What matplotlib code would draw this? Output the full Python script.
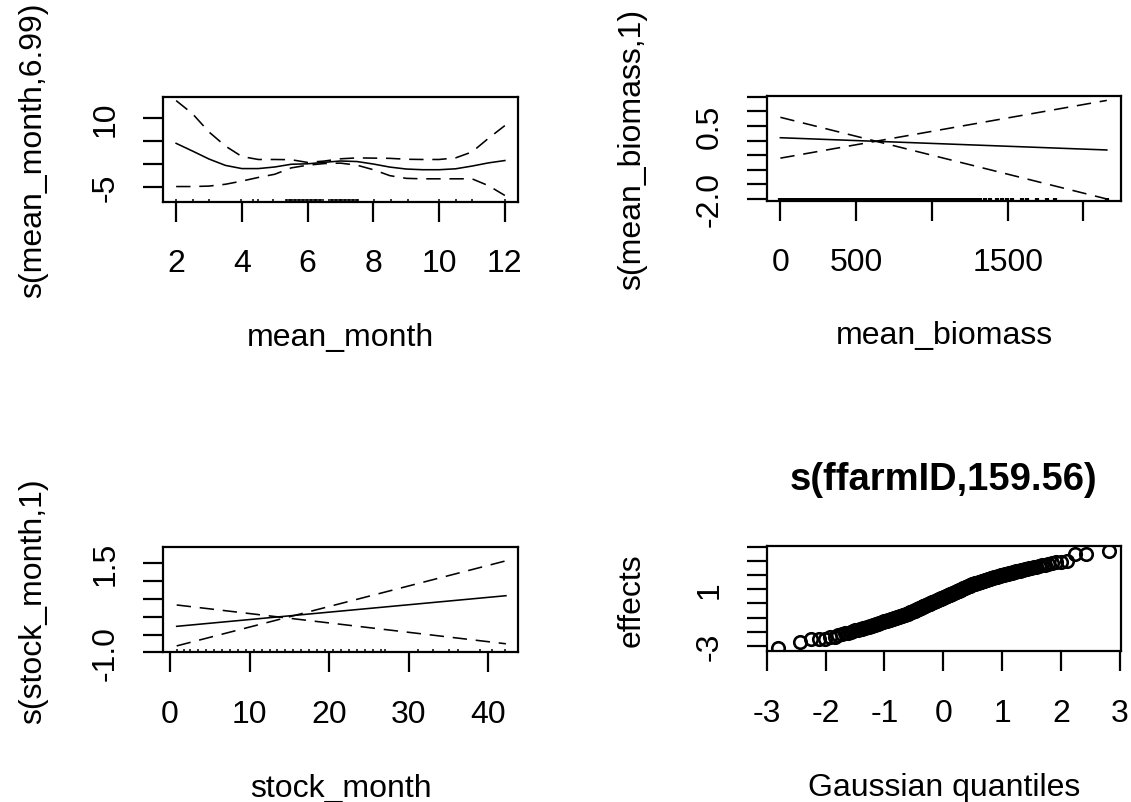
import matplotlib
matplotlib.use("Agg")
import matplotlib.pyplot as plt
from statistics import NormalDist

plt.rcParams['font.family'] = ['Liberation Sans', 'DejaVu Sans']

# s(mean_month) : fit and +-2se band
month_x = [2, 2.5, 3, 3.5, 4, 4.5, 5, 5.5, 6, 6.5, 7, 7.5, 8, 8.5, 9, 9.5, 10, 10.5, 11, 11.5, 12]
month_fit = [4.5, 2.8, 1.05, -0.35, -1.05, -1.05, -0.7, -0.1, 0.0, 0.32, 0.62, 0.5, -0.05, -0.72,
             -1.15, -1.3, -1.3, -1.1, -0.5, 0.2, 0.72]
month_up = [13.9, 11.0, 7.0, 3.9, 1.6, 0.95, 0.95, 0.9, 0.3, 0.6, 1.1, 1.3, 1.25, 1.2, 1.0, 0.95,
            0.95, 1.3, 2.6, 5.6, 8.4]
month_lo = [-5.0, -5.0, -4.9, -4.5, -3.8, -3.0, -2.3, -0.9, -0.3, 0.05, 0.15, -0.3, -1.3, -2.6,
            -3.2, -3.3, -3.3, -3.3, -3.3, -4.8, -6.96]
month_rug = [2.0, 2.5, 3.01, 3.98, 4.33, 4.48, 4.94,
             5.34, 5.38, 5.42, 5.46, 5.5, 5.54, 5.58, 5.62, 5.66, 5.7, 5.74, 5.78, 5.82, 5.86, 5.9,
             5.94, 5.98, 6.02, 6.06, 6.1, 6.14, 6.18, 6.22, 6.26, 6.3, 6.34, 6.38, 6.42, 6.46,
             6.66, 6.7, 6.74, 6.78, 6.82, 6.86, 6.9, 6.94, 6.98, 7.02, 7.06, 7.1, 7.14, 7.18, 7.22,
             7.26, 7.3, 7.34, 7.38, 7.42, 7.46, 7.5, 7.53,
             8.03, 8.53, 9.04, 10.0, 10.5, 11.0, 12.0]

# s(mean_biomass) : linear term
biomass_x = [0, 2154]
biomass_fit = [0.10, -0.32]
biomass_a = [0.80, -2.0]
biomass_b = [-0.60, 1.38]
biomass_rug = [0, 21, 38, 60, 79, 101, 118, 140, 161, 179, 200, 222, 239, 260, 281, 299, 320, 342,
               359, 380, 402, 419, 441, 460, 479, 500, 522, 540, 561, 579, 601, 620, 639, 660, 681,
               700, 719, 741, 760, 779, 800, 821, 840, 859, 880, 901, 919, 940, 962, 980, 999, 1020,
               1041, 1060, 1079, 1100, 1122, 1139, 1160, 1181, 1200, 1219, 1240, 1262, 1281, 1297,
               1318, 1351, 1384, 1428, 1461, 1494, 1527, 1593, 1626, 1692, 1758, 1813, 2154]

# s(stock_month) : linear term
stock_x = [0.84, 42.2]
stock_fit = [-0.27, 0.59]
stock_a = [0.33, -0.76]
stock_b = [-0.82, 1.57]
stock_rug = [0.84, 1.7, 2.5, 3.5, 4.5, 5.5, 6.5, 7.5, 8.5, 9.5, 10.5, 11.5, 12.5, 13.5, 14.5, 15.5,
             16.5, 17.5, 18.5, 19.5, 20.5, 21.5, 22.5, 23.5, 24.5, 25.5, 26.5, 27.0,
             31.2, 33.1, 35.0, 36.2, 38.9, 40.4, 42.1]

# random effect of ffarmID, sorted effects
effects = [
    -3.19, -2.72, -2.53, -2.52, -2.50, -2.42, -2.35, -2.27, -2.20, -2.13,
    -2.07, -2.02, -1.97, -1.92, -1.88, -1.84, -1.80, -1.76, -1.72, -1.69,
    -1.65, -1.61, -1.57, -1.54, -1.50, -1.47, -1.44, -1.40, -1.37, -1.34,
    -1.31, -1.28, -1.26, -1.23, -1.20, -1.18, -1.15, -1.12, -1.10, -1.07,
    -1.05, -1.02, -1.00, -0.98, -0.95, -0.93, -0.90, -0.88, -0.86, -0.84,
    -0.82, -0.79, -0.77, -0.75, -0.72, -0.69, -0.66, -0.64, -0.61, -0.58,
    -0.55, -0.53, -0.50, -0.47, -0.44, -0.42, -0.39, -0.37, -0.34, -0.31,
    -0.29, -0.26, -0.23, -0.21, -0.18, -0.16, -0.13, -0.11, -0.08, -0.06,
    -0.03, -0.01, 0.02, 0.04, 0.07, 0.09, 0.11, 0.14, 0.16, 0.19,
    0.21, 0.23, 0.26, 0.28, 0.30, 0.33, 0.35, 0.38, 0.40, 0.42,
    0.44, 0.47, 0.49, 0.51, 0.54, 0.56, 0.58, 0.61, 0.63, 0.66,
    0.68, 0.70, 0.73, 0.75, 0.78, 0.80, 0.82, 0.85, 0.87, 0.89,
    0.92, 0.94, 0.97, 0.99, 1.02, 1.04, 1.07, 1.09, 1.12, 1.14,
    1.17, 1.19, 1.22, 1.24, 1.27, 1.30, 1.32, 1.35, 1.38, 1.40,
    1.42, 1.44, 1.46, 1.47, 1.49, 1.51, 1.53, 1.55, 1.57, 1.59,
    1.61, 1.63, 1.65, 1.67, 1.69, 1.72, 1.74, 1.76, 1.78, 1.80,
    1.82, 1.85, 1.87, 1.90, 1.92, 1.95, 1.97, 2.00, 2.02, 2.05,
    2.07, 2.10, 2.12, 2.15, 2.17, 2.20, 2.22, 2.25, 2.28, 2.30,
    2.33, 2.36, 2.39, 2.43, 2.46, 2.50, 2.54, 2.58, 2.62, 2.67,
    2.71, 2.76, 2.81, 2.86, 2.93, 2.97, 3.05, 3.52, 3.54, 3.76]

n = len(effects)
gauss_q = [NormalDist().inv_cdf((i - 0.5) / n) for i in range(1, n + 1)]

FS = 23
DASH = (9, 5.5)
LW = 1.15

fig = plt.figure(figsize=(11.31, 8.03), dpi=100)


def setup(ax, xlim, ylim, xticks, xlabels, yticks, ylabels, xlab, ylab, ylab_x):
    ax.set_xlim(xlim)
    ax.set_ylim(ylim)
    ax.set_xticks(xticks, xlabels)
    ax.set_yticks(yticks, ylabels)
    for s in ax.spines.values():
        s.set_linewidth(1.6)
    ax.tick_params(direction='out', length=14.4, width=1.6, labelsize=FS)
    ax.tick_params(axis='x', pad=19)
    ax.tick_params(axis='y', pad=16)
    for lab in ax.get_yticklabels():
        lab.set_rotation(90)
        lab.set_va('center')
    ax.set_xlabel(xlab, fontsize=FS, va='center')
    ax.xaxis.set_label_coords(0.5, -1.29)
    ax.set_ylabel(ylab, fontsize=FS, va='center')
    ax.yaxis.set_label_coords(ylab_x, 0.5)


def rug(ax, vals, lw=1.1):
    ax.vlines(vals, 0, 0.03, transform=ax.get_xaxis_transform(), color='black', lw=lw)


# top left
ax1 = fig.add_axes([0.1441, 0.7472, 0.3139, 0.1308])
ax1.plot(month_x, month_fit, color='black', lw=LW)
ax1.plot(month_x, month_up, color='black', lw=LW, dashes=DASH)
ax1.plot(month_x, month_lo, color='black', lw=LW, dashes=DASH)
rug(ax1, month_rug)
setup(ax1, (1.6, 12.4), (-8.4, 14.7), [2, 4, 6, 8, 10, 12], ['2', '4', '6', '8', '10', '12'],
      [-5, 0, 5, 10], ['-5', '', '', '10'], 'mean_month', 's(mean_month,6.99)', -0.366)

# top right
ax2 = fig.add_axes([0.6782, 0.7488, 0.3130, 0.1300])
ax2.plot(biomass_x, biomass_fit, color='black', lw=LW)
ax2.plot(biomass_x, biomass_a, color='black', lw=LW, dashes=DASH)
ax2.plot(biomass_x, biomass_b, color='black', lw=LW, dashes=DASH)
rug(ax2, biomass_rug, lw=3.0)
setup(ax2, (-88, 2248), (-2.06, 1.52), [0, 500, 1000, 1500, 2000], ['0', '500', '', '1500', ''],
      [-2.0, -1.5, -1.0, -0.5, 0.0, 0.5, 1.0, 1.5], ['-2.0', '', '', '', '', '0.5', '', ''],
      'mean_biomass', 's(mean_biomass,1)', -0.381)

# bottom left
ax3 = fig.add_axes([0.1444, 0.1864, 0.3139, 0.1308])
ax3.plot(stock_x, stock_fit, color='black', lw=LW)
ax3.plot(stock_x, stock_a, color='black', lw=LW, dashes=DASH)
ax3.plot(stock_x, stock_b, color='black', lw=LW, dashes=DASH)
rug(ax3, stock_rug)
setup(ax3, (-0.84, 43.76), (-1.0, 1.95), [0, 10, 20, 30, 40], ['0', '10', '20', '30', '40'],
      [-1.0, -0.5, 0.0, 0.5, 1.0, 1.5], ['-1.0', '', '', '', '', '1.5'],
      'stock_month', 's(stock_month,1)', -0.366)

# bottom right: QQ plot of random effects
ax4 = fig.add_axes([0.6779, 0.1877, 0.3133, 0.1308])
ax4.plot(gauss_q, effects, ls='none', marker='o', ms=9, mfc='none', mec='black', mew=1.9)
setup(ax4, (-3.0, 3.02), (-3.4, 4.07), [-3, -2, -1, 0, 1, 2, 3],
      ['-3', '-2', '-1', '0', '1', '2', '3'],
      [-3, -2, -1, 0, 1, 2, 3, 4], ['-3', '', '', '', '1', '', '', ''],
      'Gaussian quantiles', 'effects', -0.381)
ax4.text(0.5, 1.64, 's(ffarmID,159.56)', transform=ax4.transAxes, ha='center', va='center',
         fontsize=27.5, fontweight='bold')

fig.savefig('out.png', dpi=100)
